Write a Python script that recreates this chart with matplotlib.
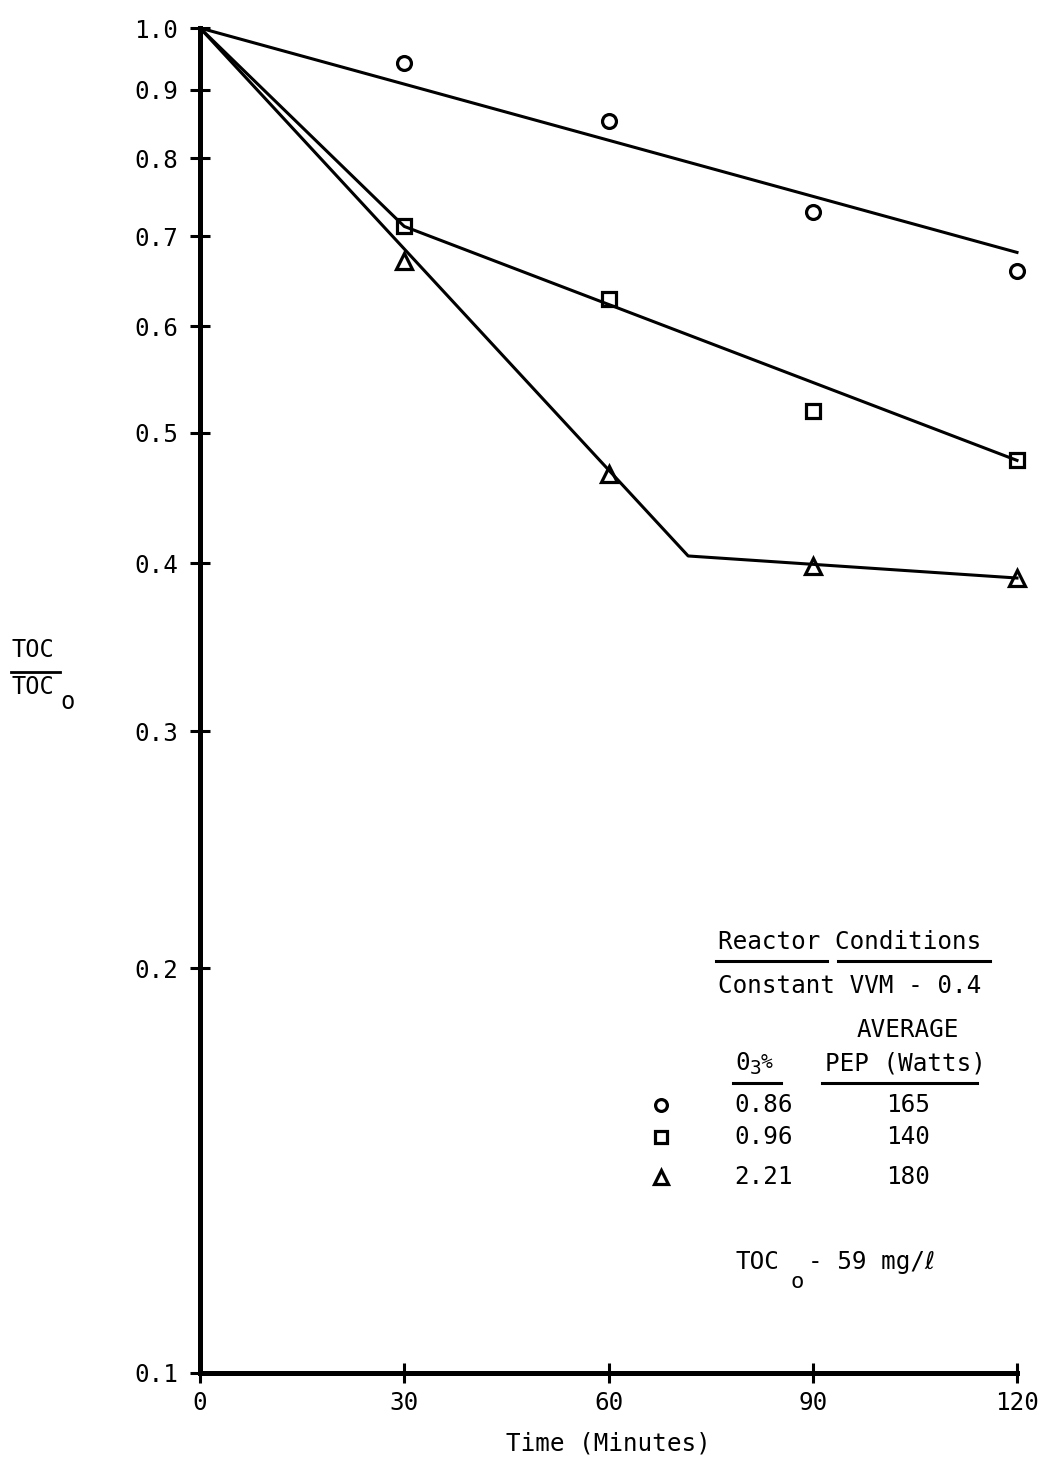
import matplotlib
matplotlib.use("Agg")
import matplotlib.pyplot as plt
from matplotlib.lines import Line2D

# ---- data ----
time_pts = [30, 60, 90, 120]
circle_vals = [0.942, 0.853, 0.730, 0.660]
square_vals = [0.712, 0.629, 0.519, 0.477]
triangle_vals = [0.671, 0.466, 0.398, 0.390]

circle_fit_x = [0, 120]
circle_fit_y = [1.0, 0.681]
square_fit_x = [0, 30, 120]
square_fit_y = [1.0, 0.712, 0.477]
triangle_fit_x = [0, 71.7, 120]
triangle_fit_y = [1.0, 0.405, 0.390]

yticks = [1.0, 0.9, 0.8, 0.7, 0.6, 0.5, 0.4, 0.3, 0.2, 0.1]
ytick_labels = ["1.0", "0.9", "0.8", "0.7", "0.6", "0.5", "0.4", "0.3", "0.2", "0.1"]
xticks = [0, 30, 60, 90, 120]
xtick_labels = ["0", "30", "60", "90", "120"]

legend_o3 = ["0.86", "0.96", "2.21"]
legend_pep = ["165", "140", "180"]

W, H = 1038, 1463
FONT = "DejaVu Sans Mono"
plt.rcParams["font.family"] = [FONT, "DejaVu Sans"]

fig = plt.figure(figsize=(W / 100, H / 100), dpi=100, facecolor="white")
ax = fig.add_axes([200 / W, 1 - 1373 / H, (1017 - 200) / W, (1373 - 28) / H])
ax.set_facecolor("white")
ax.set_yscale("log")
ax.set_xlim(0, 120)
ax.set_ylim(0.1, 1.0)

for s in ["top", "right"]:
    ax.spines[s].set_visible(False)
for s in ["left", "bottom"]:
    ax.spines[s].set_linewidth(3.6)

ax.yaxis.set_minor_locator(matplotlib.ticker.NullLocator())
ax.set_yticks(yticks)
ax.set_yticklabels(ytick_labels)
ax.set_xticks(xticks)
ax.set_xticklabels(xtick_labels)
ax.tick_params(axis="both", direction="inout", length=14, width=2.2,
               labelsize=17.5, colors="black")
ax.tick_params(axis="y", pad=9)
ax.tick_params(axis="x", pad=6)

lc = "black"
ax.plot(circle_fit_x, circle_fit_y, color=lc, lw=2.2, clip_on=False)
ax.plot(square_fit_x, square_fit_y, color=lc, lw=2.2, clip_on=False)
ax.plot(triangle_fit_x, triangle_fit_y, color=lc, lw=2.2, clip_on=False)

mk = dict(linestyle="none", markerfacecolor="none", markeredgecolor="black",
          markeredgewidth=2.3, clip_on=False)
ax.plot(time_pts, circle_vals, marker="o", markersize=10, **mk)
ax.plot(time_pts, square_vals, marker="s", markersize=9.5, **mk)
ax.plot(time_pts, triangle_vals, marker="^", markersize=11, **mk)

ax.set_xlabel("Time (Minutes)", fontsize=17.5, labelpad=12)


def fx(x):
    return x / W


def fy(y):
    return 1 - y / H


def txt(x, y, s, ha="left", size=17.5):
    fig.text(fx(x), fy(y), s, ha=ha, va="center", fontsize=size, color="black")


def hline(x0, x1, y, lw=2.2):
    fig.add_artist(Line2D([fx(x0), fx(x1)], [fy(y), fy(y)], color="black", lw=lw,
                          transform=fig.transFigure))


# y-axis label (fraction)
txt(12, 650, "TOC", size=17)
hline(11, 60, 672, lw=2.0)
txt(12, 687, "TOC", size=17)
txt(60, 702, "o", size=17)

# Legend block
txt(718, 942, "Reactor Conditions")
hline(716, 827, 961)
hline(838, 990, 961)
txt(718, 986, "Constant VVM - 0.4")
txt(908, 1030, "AVERAGE", ha="center")
txt(735, 1063, "0")
txt(750, 1069, "3", size=14)
txt(761, 1063, "%", size=14)
txt(825, 1063, "PEP (Watts)")
hline(733, 781, 1083)
hline(822, 977, 1083)

rows_y = [1105, 1137, 1177]
markers = ["o", "s", "^"]
msz = [8.5, 8, 9.5]
for yy, m, ms, o3, pep in zip(rows_y, markers, msz, legend_o3, legend_pep):
    fig.add_artist(Line2D([fx(661)], [fy(yy)], marker=m, markersize=ms,
                          markerfacecolor="none", markeredgecolor="black",
                          markeredgewidth=2.3, linestyle="none",
                          transform=fig.transFigure))
    txt(734, yy, o3)
    txt(908, yy, pep, ha="center")

txt(735, 1262, "TOC")
txt(790, 1282, "o", size=16)
txt(808, 1262, "- 59 mg/ℓ")

fig.savefig("out.png", dpi=100, facecolor="white")
